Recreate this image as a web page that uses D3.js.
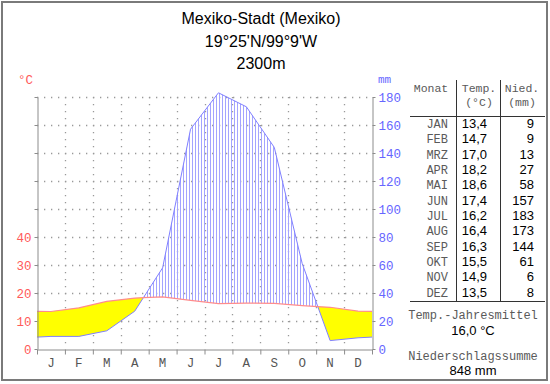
<!DOCTYPE html>
<html>
<head>
<meta charset="utf-8">
<script src="https://cdn.jsdelivr.net/npm/d3@7"></script>
<style>
  body { margin: 0; background: #fff; }
  svg { display: block; }
  .mono { font-family: "Liberation Mono", "DejaVu Sans Mono", monospace; }
  .sans { font-family: "Liberation Sans", Arial, sans-serif; }
</style>
</head>
<body>
<svg width="550" height="384"></svg>
<script>
// climate data, Mexiko-Stadt
var monthLetters = ["J","F","M","A","M","J","J","A","S","O","N","D"];
var monthNames = ["JAN","FEB","MRZ","APR","MAI","JUN","JUL","AUG","SEP","OKT","NOV","DEZ"];
var temp = [13.4, 14.7, 17.0, 18.2, 18.6, 17.4, 16.2, 16.4, 16.3, 15.5, 14.9, 13.5];
var precip = [9, 9, 13, 27, 58, 157, 183, 173, 144, 61, 6, 8];
var tempTicks = [0, 10, 20, 30, 40, 50, 60, 70, 80, 90];
var tempLabels = [0, 10, 20, 30, 40];
var precipTicks = [0, 20, 40, 60, 80, 100, 120, 140, 160, 180];
var titleLines = ["Mexiko-Stadt (Mexiko)", "19°25'N/99°9'W", "2300m"];
var meanTemp = "16,0 °C";
var sumPrecip = "848 mm";

var svg = d3.select("svg");
var fmt = function(v) { return v.toFixed(1).replace(".", ","); };

var x = d3.scaleLinear().domain([0, 12]).range([37, 372]);
var yT = d3.scaleLinear().domain([0, 90]).range([349, 97]);
var yP = d3.scaleLinear().domain([0, 180]).range([349, 97]);

// frame
svg.append("rect")
    .attr("x", 2).attr("y", 2).attr("width", 545).attr("height", 378)
    .attr("fill", "none").attr("stroke", "#7a7a7a").attr("stroke-width", 2);

// title
svg.append("g").selectAll("text")
  .data(titleLines)
  .enter().append("text")
    .attr("class", "sans")
    .attr("x", 261)
    .attr("y", function(d, i) { return 24 + i * 22.5; })
    .attr("text-anchor", "middle")
    .attr("font-size", 16)
    .attr("fill", "#000")
    .text(function(d) { return d; });

// hatch pattern for the humid period
var defs = svg.append("defs");
defs.append("pattern")
    .attr("id", "hatch")
    .attr("patternUnits", "userSpaceOnUse")
    .attr("width", 3).attr("height", 10)
  .append("line")
    .attr("x1", 0.5).attr("x2", 0.5).attr("y1", 0).attr("y2", 10)
    .attr("stroke", "#a4a4ff").attr("stroke-width", 1);

// grid
var grid = svg.append("g")
    .attr("stroke", "#999").attr("stroke-width", 1.3)
    .attr("stroke-dasharray", "1.3,5.7");
grid.selectAll(".hg")
  .data(tempTicks.slice(1))
  .enter().append("line")
    .attr("x1", x(0)).attr("x2", x(12))
    .attr("y1", function(d) { return Math.round(yT(d)) + 0.5; })
    .attr("y2", function(d) { return Math.round(yT(d)) + 0.5; });
grid.selectAll(".vg")
  .data(d3.range(1, 12))
  .enter().append("line")
    .attr("y1", yT(90)).attr("y2", yT(0))
    .attr("x1", function(d) { return Math.round(x(d)) + 0.5; })
    .attr("x2", function(d) { return Math.round(x(d)) + 0.5; });

// points: month centres plus both edges
var edge = { t: (temp[0] + temp[11]) / 2, p: (precip[0] + precip[11]) / 2 };
var pts = [{ m: 0, t: edge.t, p: edge.p }];
temp.forEach(function(t, i) { pts.push({ m: i + 0.5, t: t, p: precip[i] }); });
pts.push({ m: 12, t: edge.t, p: edge.p });

// insert crossings of precip and 2*temp
var full = [];
pts.forEach(function(d, i) {
  if (i > 0) {
    var a = pts[i - 1], da = a.p - 2 * a.t, db = d.p - 2 * d.t;
    if (da * db < 0) {
      var f = da / (da - db);
      full.push({ m: a.m + f * (d.m - a.m), t: a.t + f * (d.t - a.t), p: a.p + f * (d.p - a.p) });
    }
  }
  full.push(d);
});

var arid = d3.area()
    .x(function(d) { return x(d.m); })
    .y0(function(d) { return yP(Math.min(d.p, 2 * d.t)); })
    .y1(function(d) { return yT(d.t); });
var humid = d3.area()
    .x(function(d) { return x(d.m); })
    .y0(function(d) { return yT(d.t); })
    .y1(function(d) { return yP(Math.max(d.p, 2 * d.t)); });

svg.append("path").datum(full).attr("d", arid).attr("fill", "#ffff00");
svg.append("path").datum(full).attr("d", humid).attr("fill", "url(#hatch)");

svg.append("path").datum(full)
    .attr("d", d3.line().x(function(d) { return x(d.m); }).y(function(d) { return yP(d.p); }))
    .attr("fill", "none").attr("stroke", "#8080ff").attr("stroke-width", 1);
svg.append("path").datum(full)
    .attr("d", d3.line().x(function(d) { return x(d.m); }).y(function(d) { return yT(d.t); }))
    .attr("fill", "none").attr("stroke", "#ff8c8c").attr("stroke-width", 1.2);

// axes
var axL = svg.append("g").attr("transform", "translate(37.5,0)")
    .call(d3.axisLeft(yT).tickValues(tempTicks).tickSize(3).tickSizeOuter(0)
      .tickFormat(function(d) { return tempLabels.indexOf(d) >= 0 ? d : ""; }));
var axR = svg.append("g").attr("transform", "translate(372.5,0)")
    .call(d3.axisRight(yP).tickValues(precipTicks).tickSize(3).tickSizeOuter(0));
var axB = svg.append("g").attr("transform", "translate(0,349.5)")
    .call(d3.axisBottom(x).tickValues(d3.range(0, 13)).tickSize(5).tickSizeOuter(0).tickFormat(""));

[axL, axR, axB].forEach(function(a) {
  a.select(".domain").attr("stroke", "#8c8c8c");
  a.selectAll(".tick line").attr("stroke", "#8c8c8c");
  a.selectAll("text").attr("class", "mono").attr("font-size", 12.5).attr("font-family", null);
});
axL.selectAll("text").attr("fill", "#ff5a5a");
axR.selectAll("text").attr("fill", "#6666ff");

svg.append("text").attr("class", "mono").attr("x", 18).attr("y", 84)
    .attr("font-size", 12.5).attr("fill", "#ff5a5a").text("°C");
svg.append("text").attr("class", "mono").attr("x", 378).attr("y", 83)
    .attr("font-size", 11).attr("fill", "#6666ff").text("mm");

svg.append("g").selectAll("text")
  .data(monthLetters)
  .enter().append("text")
    .attr("class", "mono")
    .attr("x", function(d, i) { return x(i + 0.5); })
    .attr("y", 367)
    .attr("text-anchor", "middle")
    .attr("font-size", 12.5)
    .attr("fill", "#555")
    .text(function(d) { return d; });

// table
var tbl = svg.append("g");
var rowY = function(i) { return 128 + i * 15.33; };
tbl.append("line").attr("x1", 410).attr("x2", 545).attr("y1", 116.5).attr("y2", 116.5).attr("stroke", "#333");
tbl.append("line").attr("x1", 410).attr("x2", 545).attr("y1", 301.5).attr("y2", 301.5).attr("stroke", "#333");
[456.5, 500.5].forEach(function(vx) {
  tbl.append("line").attr("x1", vx).attr("x2", vx).attr("y1", 80).attr("y2", 301).attr("stroke", "#333");
});
var head = [
  { x: 431, y: 92, t: "Monat" },
  { x: 479, y: 92, t: "Temp." },
  { x: 479, y: 106, t: "(°C)" },
  { x: 522, y: 92, t: "Nied." },
  { x: 522, y: 106, t: "(mm)" }
];
tbl.selectAll(".head")
  .data(head)
  .enter().append("text")
    .attr("class", "mono")
    .attr("x", function(d) { return d.x; })
    .attr("y", function(d) { return d.y; })
    .attr("text-anchor", "middle")
    .attr("font-size", 11.5)
    .attr("fill", "#5a5a5a")
    .text(function(d) { return d.t; });

tbl.selectAll(".mn")
  .data(monthNames)
  .enter().append("text")
    .attr("class", "mono")
    .attr("x", 448).attr("y", function(d, i) { return rowY(i); })
    .attr("text-anchor", "end").attr("font-size", 12).attr("fill", "#5a5a5a")
    .text(function(d) { return d; });
tbl.selectAll(".tv")
  .data(temp)
  .enter().append("text")
    .attr("class", "sans")
    .attr("x", 487).attr("y", function(d, i) { return rowY(i); })
    .attr("text-anchor", "end").attr("font-size", 13).attr("fill", "#000")
    .text(function(d) { return fmt(d); });
tbl.selectAll(".pv")
  .data(precip)
  .enter().append("text")
    .attr("class", "sans")
    .attr("x", 534).attr("y", function(d, i) { return rowY(i); })
    .attr("text-anchor", "end").attr("font-size", 13).attr("fill", "#000")
    .text(function(d) { return d; });

var foot = [
  { y: 319, t: "Temp.-Jahresmittel", c: "mono" },
  { y: 335, t: meanTemp, c: "sans" },
  { y: 360, t: "Niederschlagssumme", c: "mono" },
  { y: 375, t: sumPrecip, c: "sans" }
];
tbl.selectAll(".ft")
  .data(foot)
  .enter().append("text")
    .attr("class", function(d) { return d.c; })
    .attr("x", 473).attr("y", function(d) { return d.y; })
    .attr("text-anchor", "middle")
    .attr("font-size", function(d) { return d.c === "mono" ? 12 : 13; })
    .attr("fill", function(d) { return d.c === "mono" ? "#5a5a5a" : "#000"; })
    .text(function(d) { return d.t; });
</script>
</body>
</html>
